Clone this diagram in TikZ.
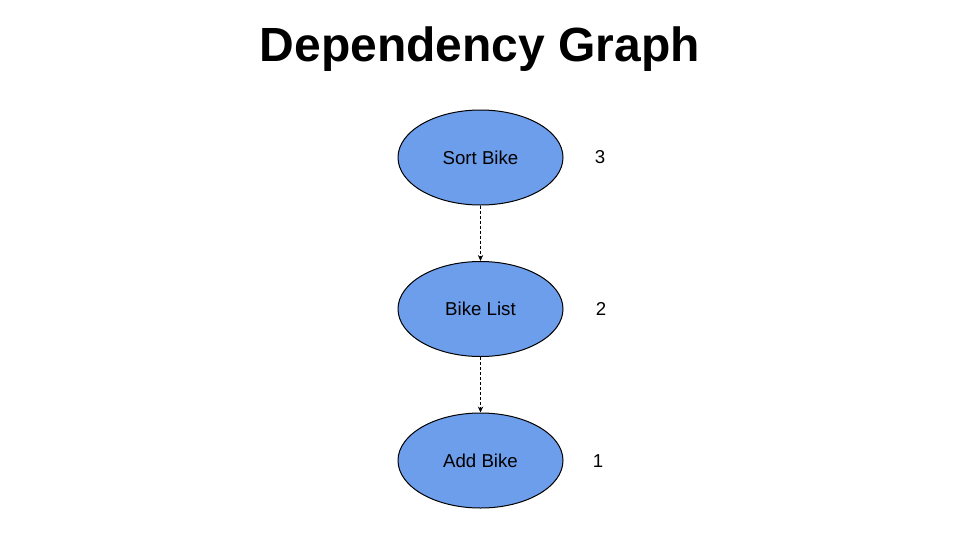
\documentclass[tikz,border=0pt]{standalone}
\usepackage{fontspec}
\setmainfont{Liberation Sans}
\usetikzlibrary{shapes.geometric,arrows.meta}
\definecolor{nodeblue}{HTML}{6D9EEB}
\tikzset{
  px/.style={x=0.75pt,y=-0.75pt},
  bubble/.style={ellipse,draw=black,line width=0.75pt,fill=nodeblue,minimum width=123.75pt,minimum height=71.25pt,inner sep=0pt,font=\fontsize{14pt}{16pt}\selectfont},
  rank/.style={font=\fontsize{14pt}{16pt}\selectfont,inner sep=0pt},
  dep/.style={draw=black,line width=0.75pt,dash pattern=on 2.25pt off 1.5pt,-{Stealth[length=4.5pt,width=4pt]}}
}
\begin{document}
\begin{tikzpicture}[px]
\useasboundingbox (0,0) rectangle (960,540);
\node[font=\fontsize{36pt}{40pt}\selectfont\bfseries,inner sep=0pt] (title) at (480,49) {Dependency Graph};
\node[bubble] (sort) at (480.5,157.5) {Sort Bike};
\node[bubble] (list) at (480.5,309) {Bike List};
\node[bubble] (add) at (480.5,460.5) {Add Bike};
\node[rank] (r3) at (600,157) {3};
\node[rank] (r2) at (601,309) {2};
\node[rank] (r1) at (598,461) {1};
\draw[dep] (sort) -- (list);
\draw[dep] (list) -- (add);
\end{tikzpicture}
\end{document}
